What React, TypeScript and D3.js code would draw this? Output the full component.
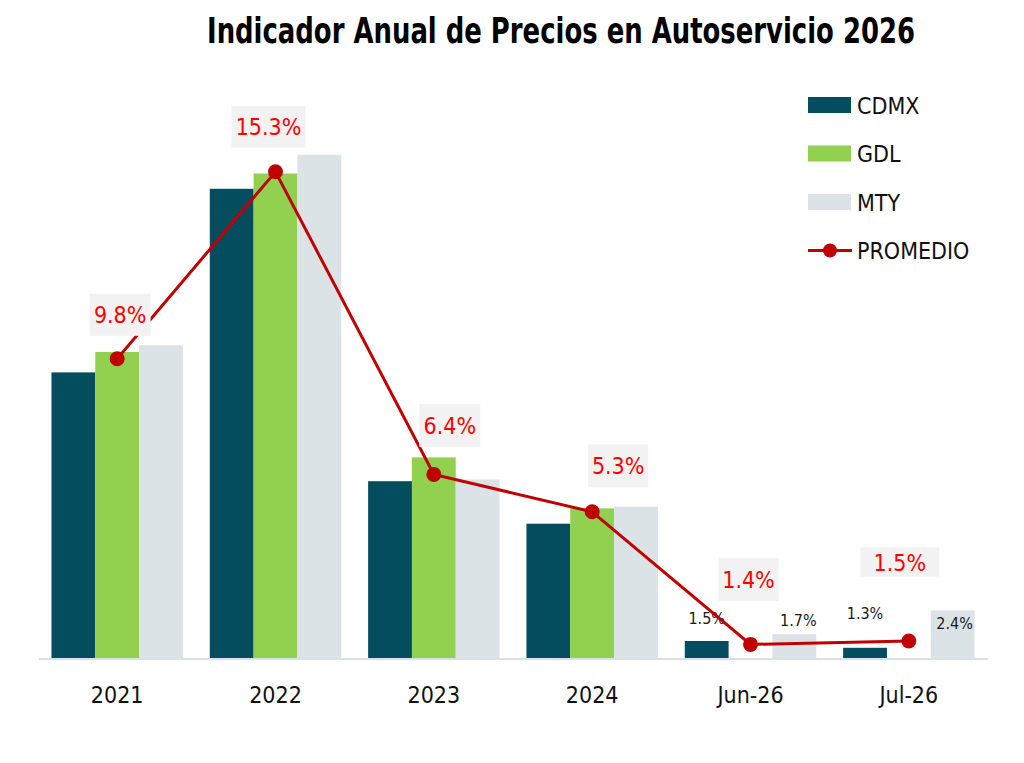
import React from "react";
import * as d3 from "d3";

const categories = ["2021", "2022", "2023", "2024", "Jun-26", "Jul-26"];
const seriesNames = ["CDMX", "GDL", "MTY"];
const cdmx = [9.4, 14.8, 6.2, 4.95, 1.5, 1.3];
const gdl = [10.0, 15.25, 6.9, 5.4, 1.0, 0.8];
const mty = [10.2, 15.8, 6.25, 5.45, 1.7, 2.4];
const promedio = [9.8, 15.3, 6.4, 5.3, 1.4, 1.5];
const promedioLabels = ["9.8%", "15.3%", "6.4%", "5.3%", "1.4%", "1.5%"];
// small value labels shown only on the last two periods
const smallLabels = [
  { cat: "Jun-26", series: "CDMX", text: "1.5%" },
  { cat: "Jun-26", series: "MTY", text: "1.7%" },
  { cat: "Jul-26", series: "CDMX", text: "1.3%" },
  { cat: "Jul-26", series: "MTY", text: "2.4%" },
];

// manual placement of labels (as moved by hand in the original)
const avgLabelLayout = [
  { dx: 3, dy: -44, w: 61, h: 42 },
  { dx: -7, dy: -45, w: 74, h: 42 },
  { dx: 16, dy: -49, w: 61, h: 43 },
  { dx: 26, dy: -46, w: 60, h: 43 },
  { dx: -2, dy: -65, w: 60, h: 43 },
  { dx: -9, dy: -79, w: 79, h: 29 },
];
const smallLabelNudge = [
  { dx: 0, dy: -17 },
  { dx: 4, dy: -8 },
  { dx: 0, dy: -29 },
  { dx: 2, dy: 19 },
];

const colors: Record<string, string> = {
  CDMX: "#034d5e",
  GDL: "#92d050",
  MTY: "#dce3e7",
};
const red = "#c00000";
const font = "'Liberation Sans Narrow', 'DejaVu Sans Condensed', 'Arial Narrow', sans-serif";

const width = 1024;
const height = 763;

export default function App() {
  const values: Record<string, number[]> = { CDMX: cdmx, GDL: gdl, MTY: mty };

  const x0 = d3
    .scaleBand<string>()
    .domain(categories)
    .range([38, 988])
    .paddingInner(0.17)
    .paddingOuter(0.085);
  const x1 = d3
    .scaleBand<string>()
    .domain(seriesNames)
    .range([0, x0.bandwidth()])
    .padding(0);
  const y = d3.scaleLinear().domain([1, 17]).range([658, 114]);
  const base = y(1);

  const cx = (i: number) => (x0(categories[i]) || 0) + x0.bandwidth() / 2;
  const line = d3
    .line<number>()
    .x((_, i) => cx(i))
    .y((d) => y(d));

  const legendItems = [...seriesNames, "PROMEDIO"];

  return (
    <svg
      width={width}
      height={height}
      style={{ position: "absolute", left: 0, top: 0, background: "#fff" }}
      fontFamily={font}
    >
      <rect width={width} height={height} fill="#fff" />
      <text
        x={561}
        y={43}
        textAnchor="middle"
        fontSize={35}
        fontWeight="bold"
        fill="#000"
        textLength={708}
        lengthAdjust="spacingAndGlyphs"
      >
        Indicador Anual de Precios en Autoservicio 2026
      </text>

      {categories.map((c, i) => (
        <g key={c} transform={`translate(${x0(c)},0)`}>
          {seriesNames.map((s) => {
            const v = values[s][i];
            const top = Math.min(base, y(v));
            return (
              <rect
                key={s}
                x={x1(s)}
                y={top}
                width={x1.bandwidth()}
                height={base - top}
                fill={colors[s]}
              />
            );
          })}
        </g>
      ))}

      <line x1={39} x2={988} y1={base + 1} y2={base + 1} stroke="#d9e1e8" strokeWidth={2} />

      {categories.map((c, i) => (
        <text key={c} x={cx(i)} y={703} textAnchor="middle" fontSize={23} fill="#111">
          {c}
        </text>
      ))}

      {smallLabels.map((l, k) => {
        const i = categories.indexOf(l.cat);
        const v = values[l.series][i];
        const bx = (x0(l.cat) || 0) + (x1(l.series) || 0) + x1.bandwidth() / 2;
        return (
          <text
            key={k}
            x={bx + smallLabelNudge[k].dx}
            y={y(v) + smallLabelNudge[k].dy}
            textAnchor="middle"
            fontSize={16}
            fill="#1a1a1a"
          >
            {l.text}
          </text>
        );
      })}

      <path d={line(promedio) || ""} fill="none" stroke={red} strokeWidth={3} />
      {promedio.map((v, i) => (
        <circle key={i} cx={cx(i)} cy={y(v)} r={7.5} fill={red} />
      ))}

      {promedio.map((v, i) => {
        const L = avgLabelLayout[i];
        const bx = cx(i) + L.dx;
        const by = y(v) + L.dy;
        return (
          <g key={i}>
            <rect x={bx - L.w / 2} y={by - L.h / 2} width={L.w} height={L.h} fill="#f2f2f2" />
            <text x={bx} y={by + 8.5} textAnchor="middle" fontSize={23} fill="#ff0000">
              {promedioLabels[i]}
            </text>
          </g>
        );
      })}

      {legendItems.map((name, k) => {
        const ly = 105 + k * 48.5;
        return (
          <g key={name}>
            {name === "PROMEDIO" ? (
              <g>
                <line x1={808} x2={852} y1={ly} y2={ly} stroke={red} strokeWidth={3} />
                <circle cx={830} cy={ly} r={7} fill={red} />
              </g>
            ) : (
              <rect x={808} y={ly - 8} width={43} height={16} fill={colors[name]} />
            )}
            <text x={857} y={ly + 8.5} fontSize={23} fill="#111">
              {name}
            </text>
          </g>
        );
      })}
    </svg>
  );
}
